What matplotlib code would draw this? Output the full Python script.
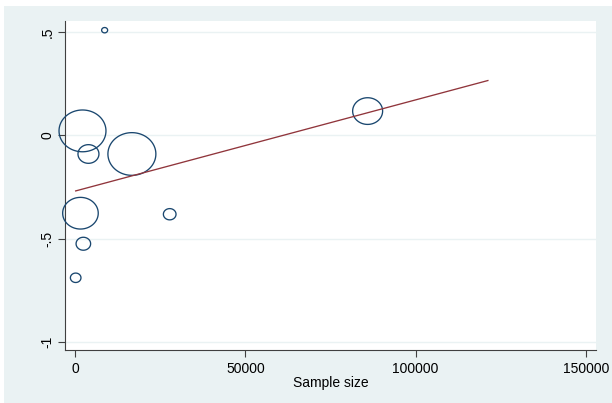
import numpy as np
import matplotlib
matplotlib.use("Agg")
import matplotlib.pyplot as plt
from matplotlib.path import Path
from matplotlib.patches import Rectangle

# study-level points: sample size, effect, weight (bubble area)
sample_size = [8700, 2200, 3950, 16700, 1600, 27800, 2450, 200, 85900]
effect = [0.51, 0.022, -0.09, -0.09, -0.377, -0.382, -0.525, -0.69, 0.118]
weight = [9, 552, 110, 576, 317, 40, 53, 28, 225]

# fitted line end points
fit_x = [200, 121200]
fit_y = [-0.269, 0.266]

xticks = [0, 50000, 100000, 150000]
yticks = [-1, -0.5, 0, 0.5]
ytick_labels = ["-1", "-.5", "0", ".5"]

bg = "#eaf2f3"
navy = "#1a476f"
maroon = "#90353b"

plt.rcParams["font.family"] = ["Liberation Sans", "DejaVu Sans"]

fig = plt.figure(figsize=(6.12, 4.03), dpi=100, facecolor="white")
fig.patches.append(Rectangle((4/612, 0), 1, 1 - 6/403, transform=fig.transFigure,
                             facecolor=bg, edgecolor="none", zorder=-10))
ax = fig.add_axes([65/612, 1 - 350/403, 531/612, 329.3/403])
ax.set_facecolor("white")

# slightly flattened circle, like the stretched original
t = np.linspace(0, 2*np.pi, 100)
ell = Path(np.column_stack((np.cos(t), 0.89*np.sin(t))), closed=True)

sizes = [2.07*w for w in weight]
ax.scatter(sample_size, effect, s=sizes, marker=ell, facecolors="none",
           edgecolors=navy, linewidths=0.95, zorder=3, clip_on=False)
ax.plot(fit_x, fit_y, color=maroon, lw=0.95, zorder=4)

ax.set_xlim(-2936, 152936)
ax.set_ylim(-1.040, 0.556)
ax.set_xticks(xticks)
ax.set_xticklabels([str(v) for v in xticks])
ax.set_yticks(yticks)
ax.set_yticklabels(ytick_labels, rotation=90, va="center")
ax.yaxis.grid(True, color=bg, lw=1.0)
ax.set_axisbelow(True)

for s in ["top", "right"]:
    ax.spines[s].set_visible(False)
for s in ["left", "bottom"]:
    ax.spines[s].set_color("#404040")
    ax.spines[s].set_linewidth(0.8)
ax.tick_params(length=5, width=0.8, color="#404040", labelsize=10, labelcolor="black")
ax.tick_params(axis="x", pad=3.5)
ax.tick_params(axis="y", pad=2.5)
ax.set_xlabel("Sample size", fontsize=10, labelpad=0.5)

fig.savefig("out.png", dpi=100, facecolor=fig.get_facecolor())
